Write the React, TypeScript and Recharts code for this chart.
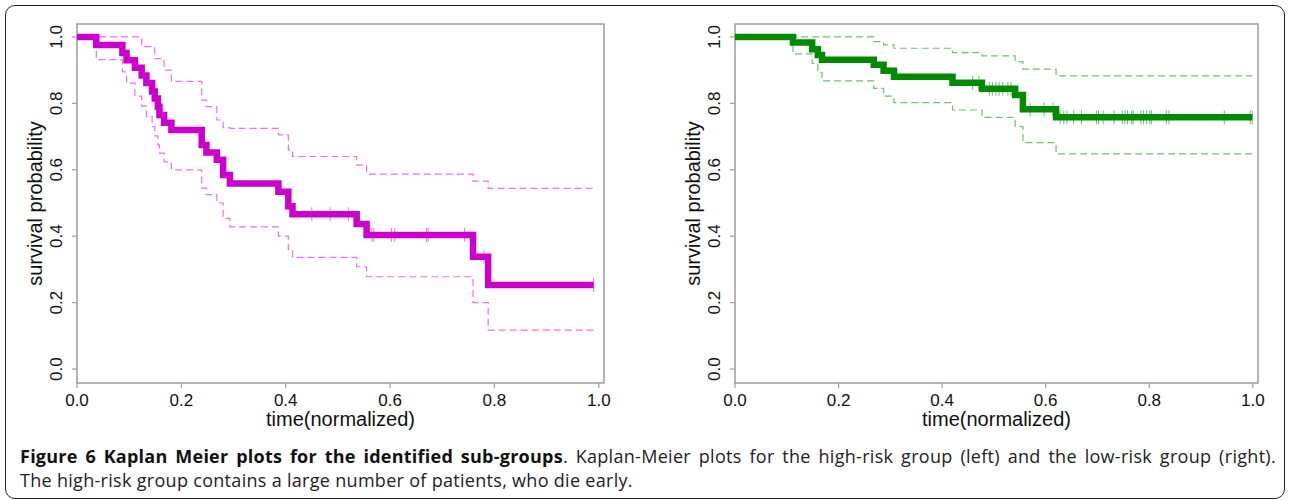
import React from "react";
import { ComposedChart, Line, Scatter, XAxis, YAxis, ReferenceArea } from "recharts";

// high-risk group (left panel)
const HIGH_TIME = [0, 0.037, 0.087, 0.095, 0.111, 0.124, 0.133, 0.144, 0.149, 0.155, 0.158, 0.167, 0.181, 0.239, 0.248, 0.268, 0.28, 0.293, 0.386, 0.405, 0.413, 0.536, 0.555, 0.759, 0.788, 0.99];
const HIGH_SURV = [1, 0.976, 0.952, 0.93, 0.907, 0.884, 0.861, 0.836, 0.815, 0.79, 0.765, 0.742, 0.72, 0.675, 0.652, 0.63, 0.584, 0.559, 0.534, 0.49, 0.466, 0.437, 0.404, 0.338, 0.253, 0.253];
const HIGH_UPPER = [1, 1, 1, 1, 1, 0.971, 0.971, 0.971, 0.935, 0.935, 0.935, 0.9, 0.866, 0.81, 0.79, 0.75, 0.727, 0.725, 0.705, 0.66, 0.64, 0.614, 0.587, 0.566, 0.544, 0.544];
const HIGH_LOWER = [1, 0.932, 0.895, 0.861, 0.822, 0.792, 0.76, 0.73, 0.702, 0.675, 0.65, 0.624, 0.6, 0.545, 0.525, 0.5, 0.454, 0.428, 0.4, 0.36, 0.336, 0.308, 0.278, 0.2, 0.117, 0.117];
const HIGH_CENSOR = [0.45, 0.485, 0.52, 0.565, 0.569, 0.603, 0.609, 0.67, 0.673, 0.743, 0.78, 0.99];

// low-risk group (right panel)
const LOW_TIME = [0, 0.112, 0.149, 0.16, 0.168, 0.268, 0.287, 0.307, 0.42, 0.477, 0.541, 0.556, 0.62, 0.999];
const LOW_SURV = [1, 0.983, 0.963, 0.946, 0.931, 0.916, 0.898, 0.88, 0.862, 0.844, 0.825, 0.782, 0.758, 0.758];
const LOW_UPPER = [1, 1, 1, 1, 1, 0.986, 0.976, 0.966, 0.953, 0.943, 0.926, 0.903, 0.883, 0.883];
const LOW_LOWER = [1, 0.949, 0.92, 0.893, 0.868, 0.845, 0.822, 0.802, 0.78, 0.758, 0.73, 0.682, 0.648, 0.648];
const LOW_CENSOR = [0.459, 0.471, 0.491, 0.497, 0.504, 0.51, 0.517, 0.527, 0.533, 0.57, 0.597, 0.614, 0.628, 0.635, 0.641, 0.654, 0.669, 0.698, 0.702, 0.711, 0.732, 0.748, 0.753, 0.758, 0.766, 0.769, 0.784, 0.789, 0.795, 0.801, 0.804, 0.833, 0.838, 0.945, 0.995, 0.999];

const AXIS_TICKS = [0, 0.2, 0.4, 0.6, 0.8, 1];
const X_DOMAIN: [number, number] = [0, 1.01];
const Y_DOMAIN: [number, number] = [-0.042, 1.039];

const R_FONT = "'Liberation Sans', Arial, Helvetica, sans-serif";
const BOX_COLOR = "#9c9c9c";

function buildRows(time: number[], surv: number[], upper: number[], lower: number[]) {
  return time.map((t, i) => ({ t, s: surv[i], u: upper[i], l: lower[i] }));
}

// survival value at a censoring time (step function lookup)
function censorRows(censor: number[], time: number[], surv: number[]) {
  return censor.map((c) => {
    let idx = 0;
    for (let i = 0; i < time.length; i++) if (time[i] <= c) idx = i;
    return { t: c, s: surv[idx] };
  });
}

function XTick(props: any) {
  const { x, y, payload } = props;
  return (
    <text x={x} y={y} dy="0.8em" textAnchor="middle" fontSize={17} fill="#111" fontFamily={R_FONT}>
      {Number(payload.value).toFixed(1)}
    </text>
  );
}

function YTick(props: any) {
  const { x, y, payload } = props;
  const cx = x - 7;
  return (
    <text
      x={cx}
      y={y}
      transform={`rotate(-90 ${cx} ${y})`}
      textAnchor="middle"
      dominantBaseline="central"
      fontSize={17}
      fill="#111"
      fontFamily={R_FONT}
    >
      {Number(payload.value).toFixed(1)}
    </text>
  );
}

type PanelProps = {
  rows: { t: number; s: number; u: number; l: number }[];
  censors: { t: number; s: number }[];
  color: string;
  ciColor: string;
  left: number;
  marginLeft: number;
  marginRight: number;
};

function KmPanel({ rows, censors, color, ciColor, left, marginLeft, marginRight }: PanelProps) {
  return (
    <div style={{ position: "absolute", left, top: 0 }}>
      <ComposedChart
        width={645}
        height={440}
        data={rows}
        margin={{ top: 24, right: marginRight, left: marginLeft, bottom: 27 }}
      >
        <XAxis
          dataKey="t"
          type="number"
          domain={X_DOMAIN}
          ticks={AXIS_TICKS}
          allowDataOverflow
          height={30}
          tickSize={5}
          tickMargin={4}
          axisLine={false}
          tickLine={{ stroke: BOX_COLOR, strokeWidth: 1.2 }}
          tick={<XTick />}
          label={{
            content: (p: any) => {
              const vb = p.viewBox;
              return (
                <text
                  x={vb.x + vb.width / 2}
                  y={vb.y + 36}
                  textAnchor="middle"
                  dominantBaseline="central"
                  fontSize={20}
                  fill="#111"
                  fontFamily={R_FONT}
                >
                  time(normalized)
                </text>
              );
            },
          }}
        />
        <YAxis
          type="number"
          domain={Y_DOMAIN}
          ticks={AXIS_TICKS}
          allowDataOverflow
          width={40}
          tickSize={5}
          tickMargin={8}
          axisLine={false}
          tickLine={{ stroke: BOX_COLOR, strokeWidth: 1.2 }}
          tick={<YTick />}
          label={{
            content: (p: any) => {
              const vb = p.viewBox;
              const cx = vb.x - 2;
              const cy = vb.y + vb.height / 2;
              return (
                <text
                  x={cx}
                  y={cy}
                  transform={`rotate(-90 ${cx} ${cy})`}
                  textAnchor="middle"
                  dominantBaseline="central"
                  fontSize={20}
                  fill="#111"
                  fontFamily={R_FONT}
                >
                  survival probability
                </text>
              );
            },
          }}
        />
        <ReferenceArea
          x1={X_DOMAIN[0]}
          x2={X_DOMAIN[1]}
          y1={Y_DOMAIN[0]}
          y2={Y_DOMAIN[1]}
          fill="none"
          stroke={BOX_COLOR}
          strokeWidth={1.5}
          ifOverflow="visible"
        />
        <Line
          type="stepAfter"
          dataKey="u"
          stroke={ciColor}
          strokeWidth={1.2}
          strokeDasharray="7 4"
          dot={false}
          isAnimationActive={false}
        />
        <Line
          type="stepAfter"
          dataKey="l"
          stroke={ciColor}
          strokeWidth={1.2}
          strokeDasharray="7 4"
          dot={false}
          isAnimationActive={false}
        />
        <Line
          type="stepAfter"
          dataKey="s"
          stroke={color}
          strokeWidth={6.5}
          dot={false}
          isAnimationActive={false}
        />
        <Scatter
          data={censors}
          dataKey="s"
          isAnimationActive={false}
          shape={(p: any) => (
            <line x1={p.cx} x2={p.cx} y1={p.cy - 7} y2={p.cy + 7} stroke={color} strokeWidth={1} opacity={0.55} />
          )}
        />
      </ComposedChart>
    </div>
  );
}

export default function App() {
  const highRows = buildRows(HIGH_TIME, HIGH_SURV, HIGH_UPPER, HIGH_LOWER);
  const lowRows = buildRows(LOW_TIME, LOW_SURV, LOW_UPPER, LOW_LOWER);
  const highCensor = censorRows(HIGH_CENSOR, HIGH_TIME, HIGH_SURV);
  const lowCensor = censorRows(LOW_CENSOR, LOW_TIME, LOW_SURV);

  return (
    <div
      style={{
        position: "absolute",
        left: 0,
        top: 0,
        width: 1290,
        height: 500,
        background: "#fff",
        overflow: "hidden",
      }}
    >
      <div
        style={{
          position: "absolute",
          left: 5,
          top: 5,
          width: 1278,
          height: 492,
          border: "1.5px solid #222",
          borderRadius: 10,
        }}
      />
      <KmPanel
        rows={highRows}
        censors={highCensor}
        color="#cc00cc"
        ciColor="#f46cf4"
        left={0}
        marginLeft={37}
        marginRight={41}
      />
      <KmPanel
        rows={lowRows}
        censors={lowCensor}
        color="#008a00"
        ciColor="#70c070"
        left={645}
        marginLeft={50}
        marginRight={32}
      />
      <div
        style={{
          position: "absolute",
          left: 20,
          top: 444,
          width: 1256,
          fontFamily: "'Open Sans', 'Noto Sans', sans-serif",
          fontSize: 18,
          lineHeight: "24px",
          color: "#222",
          letterSpacing: 0.3,
        }}
      >
        <div style={{ textAlign: "justify", textAlignLast: "justify", whiteSpace: "nowrap" }}>
          <b style={{ color: "#111", letterSpacing: 0.25 }}>Figure 6 Kaplan Meier plots for the identified sub-groups</b>. Kaplan-Meier
          plots for the high-risk group (left) and the low-risk group (right).
        </div>
        <div>The high-risk group contains a large number of patients, who die early.</div>
      </div>
    </div>
  );
}
